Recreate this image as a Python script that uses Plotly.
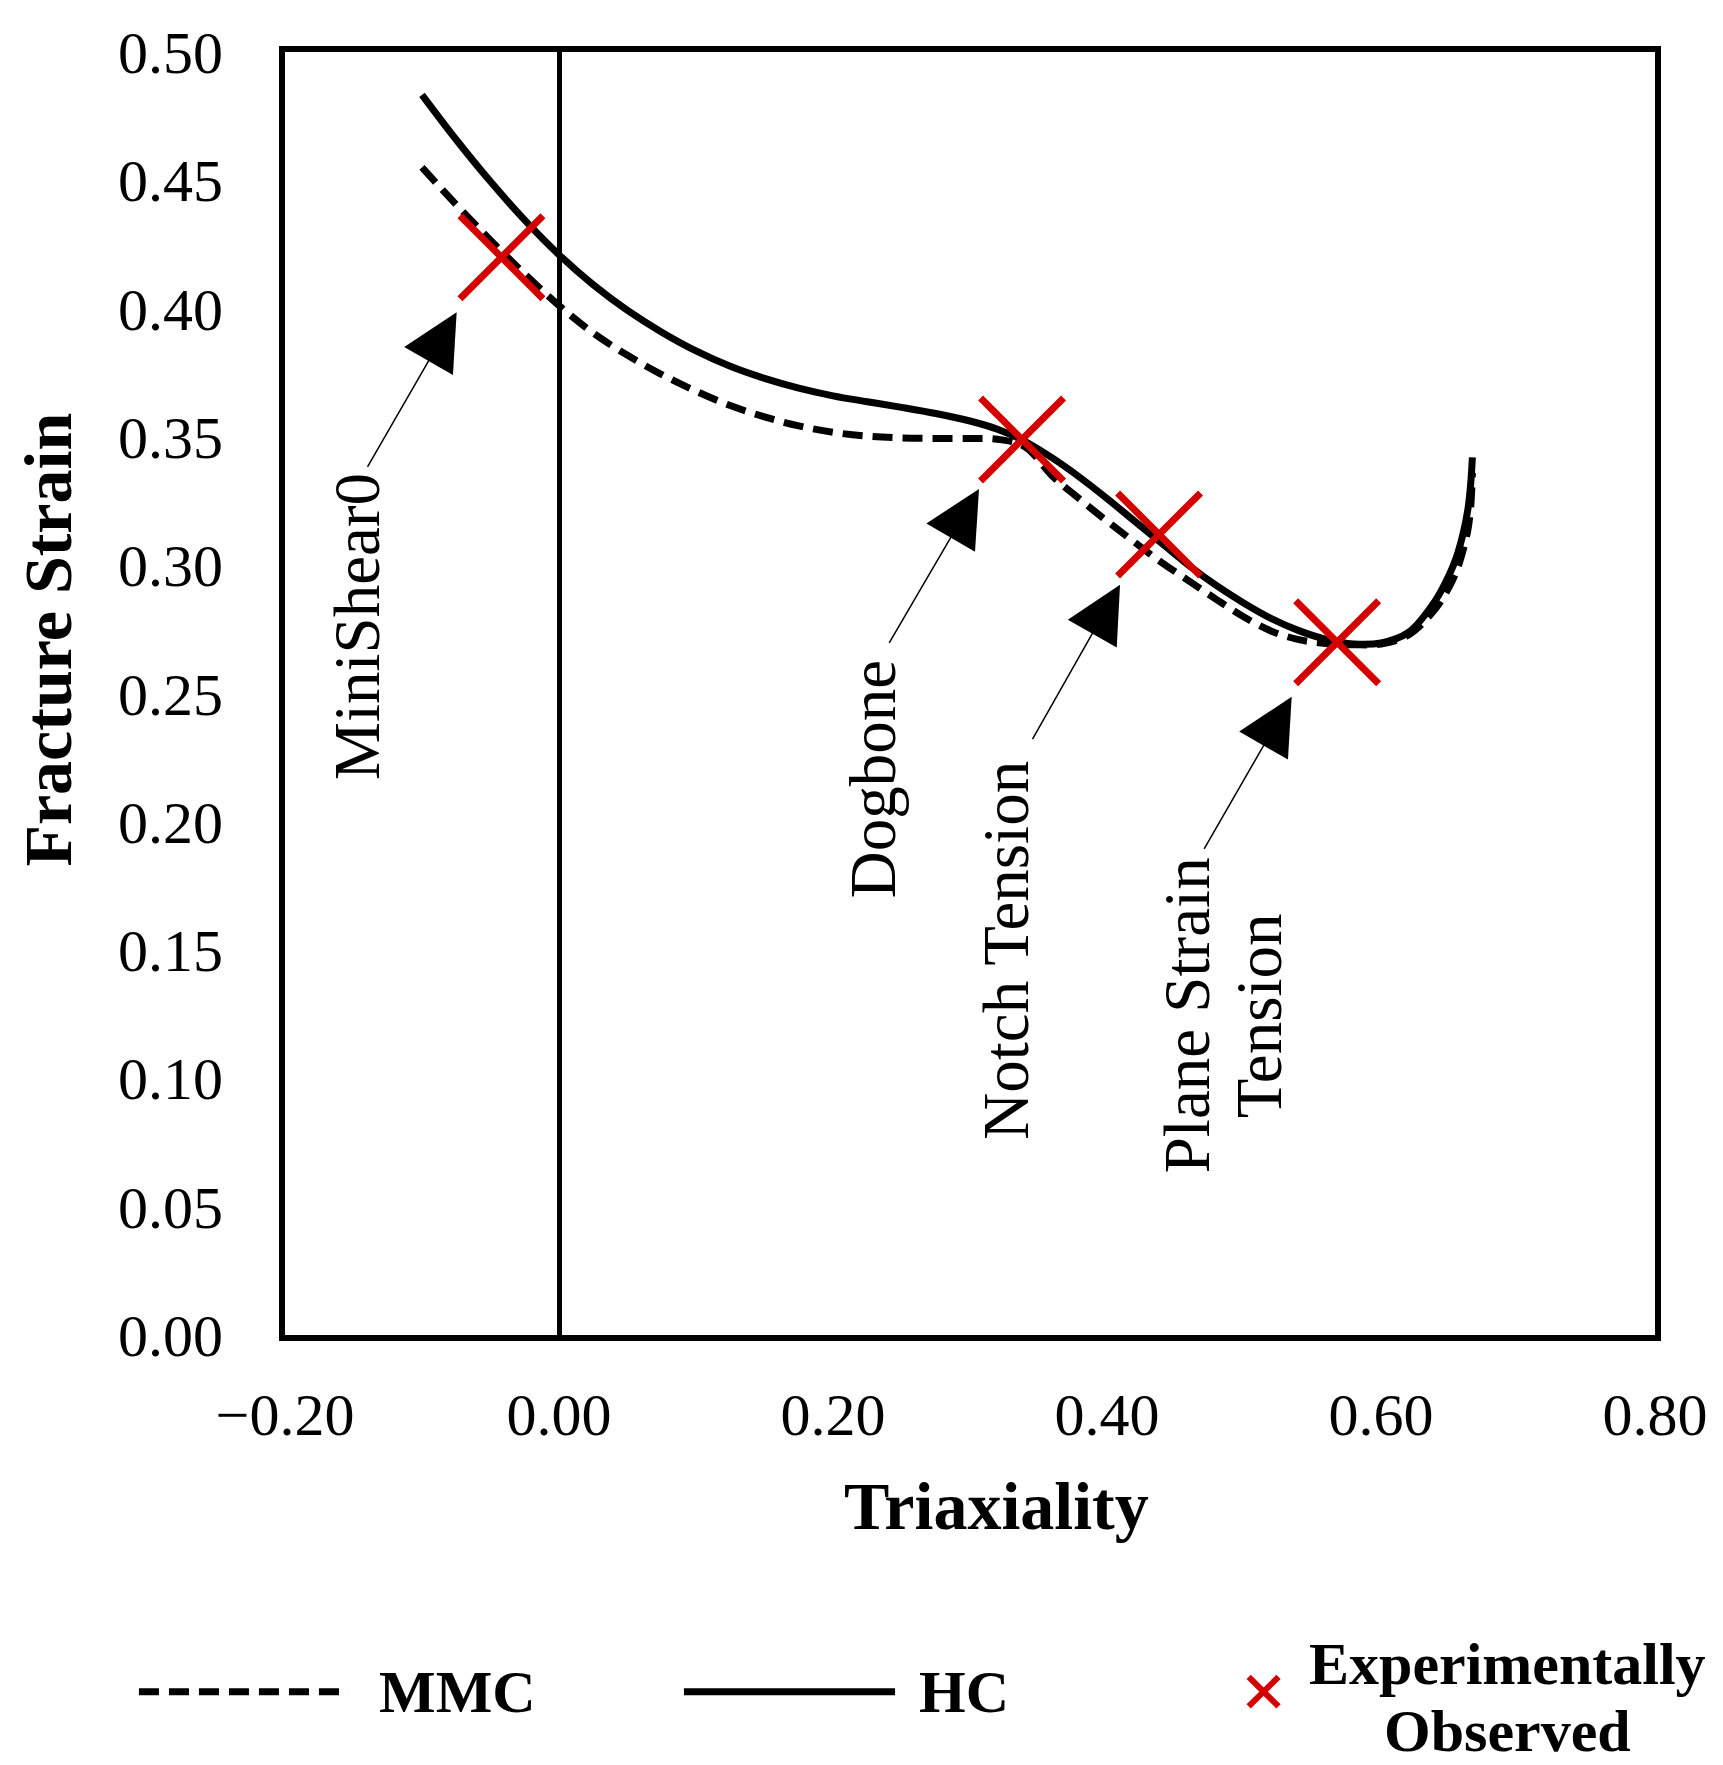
import plotly.graph_objects as go

# Curves
triax = [-0.10, -0.075, -0.05, -0.025, 0.0, 0.025, 0.05, 0.075, 0.10, 0.125,
         0.15, 0.175, 0.20, 0.225, 0.25, 0.275, 0.30, 0.32, 0.34, 0.36,
         0.38, 0.40, 0.42, 0.44, 0.46, 0.48, 0.50, 0.52, 0.54, 0.56,
         0.58, 0.60, 0.62, 0.64, 0.65, 0.655, 0.66, 0.6635, 0.6655, 0.6667]

hc_strain = [0.4833, 0.4658, 0.4495, 0.4345, 0.421, 0.4093, 0.3993, 0.3908, 0.3835, 0.3775,
             0.3728, 0.369, 0.366, 0.3637, 0.3615, 0.3591, 0.3562, 0.353, 0.3483, 0.3418,
             0.3343, 0.326, 0.3172, 0.3085, 0.2998, 0.292, 0.2852, 0.2792, 0.2745, 0.2711,
             0.2693, 0.2697, 0.2738, 0.2865, 0.2965, 0.303, 0.3125, 0.322, 0.332, 0.342]

mmc_strain = [0.455, 0.4405, 0.4267, 0.4135, 0.4012, 0.3905, 0.3818, 0.3743, 0.3678, 0.3622,
              0.3578, 0.3543, 0.3518, 0.3503, 0.3496, 0.3494, 0.3494, 0.3491, 0.3462, 0.3348,
              0.3258, 0.3172, 0.309, 0.301, 0.2938, 0.2866, 0.2798, 0.2743, 0.271, 0.2695,
              0.269, 0.2693, 0.2728, 0.2832, 0.2918, 0.2975, 0.306, 0.314, 0.323, 0.336]

# Experimentally observed points
exp_triax = [-0.042, 0.338, 0.438, 0.568]
exp_strain = [0.420, 0.349, 0.312, 0.270]

# Specimen labels: text position, arrow tail, arrow tip
spec_labels = ["MiniShear0", "Dogbone", "Notch Tension", "Plane Strain"]
label_x = [-0.147, 0.2292, 0.3263, 0.4584]
label_y = [0.2762, 0.2166, 0.1498, 0.1246]
tail_x = [-0.1404, 0.2404, 0.345, 0.4703]
tail_y = [0.3377, 0.2691, 0.2316, 0.1889]
tip_x = [-0.0747, 0.3066, 0.4095, 0.5348]
tip_y = [0.3986, 0.3297, 0.2924, 0.2487]

FONT = "Liberation Serif"
RED = "#d40000"

fig = go.Figure()

fig.add_trace(go.Scatter(
    x=triax, y=mmc_strain, mode="lines", name="MMC",
    line=dict(color="black", width=7, dash="20px,10px", shape="spline", smoothing=1.0),
))
fig.add_trace(go.Scatter(
    x=triax, y=hc_strain, mode="lines", name="HC",
    line=dict(color="black", width=7, shape="spline", smoothing=1.0),
))
fig.add_trace(go.Scatter(
    x=exp_triax, y=exp_strain, mode="markers", name="Experimentally Observed",
    marker=dict(symbol="x-thin", size=83, color=RED, line=dict(width=7, color=RED)),
))

label_font = dict(family=FONT, size=65, color="black")
annotations = []
for name, lx, ly in zip(spec_labels, label_x, label_y):
    annotations.append(dict(
        x=lx, y=ly, xref="x", yref="y", text=name, showarrow=False,
        textangle=-90, xanchor="center", yanchor="middle", font=label_font,
    ))
# second line of "Plane Strain Tension"
annotations.append(dict(
    x=0.511, y=0.1242, xref="x", yref="y", text="Tension", showarrow=False,
    textangle=-90, xanchor="center", yanchor="middle", font=label_font,
))
for tx, ty, hx, hy in zip(tail_x, tail_y, tip_x, tip_y):
    annotations.append(dict(
        x=hx, y=hy, ax=tx, ay=ty, xref="x", yref="y", axref="x", ayref="y",
        text="", showarrow=True, arrowhead=2, arrowsize=7.5, arrowwidth=1.5,
        arrowcolor="black", standoff=0, startstandoff=0,
    ))

# axis titles
title_font = dict(family=FONT, size=68, color="black")
annotations.append(dict(
    x=0.5197, y=-0.1335, xref="paper", yref="paper", text="<b>Triaxiality</b>",
    showarrow=False, xanchor="center", yanchor="middle", font=title_font,
))
annotations.append(dict(
    x=-0.173, y=0.542, xref="paper", yref="paper", text="<b>Fracture Strain</b>",
    showarrow=False, textangle=-90, xanchor="center", yanchor="middle", font=title_font,
))

# legend drawn below the plot
leg_font = dict(family=FONT, size=60, color="black")
leg_y = -0.278
annotations += [
    dict(x=0.0672, y=leg_y, xref="paper", yref="paper", text="<b>MMC</b>",
         showarrow=False, xanchor="left", yanchor="middle", font=leg_font),
    dict(x=0.4613, y=leg_y, xref="paper", yref="paper", text="<b>HC</b>",
         showarrow=False, xanchor="left", yanchor="middle", font=leg_font),
    dict(x=0.892, y=-0.2562, xref="paper", yref="paper", text="<b>Experimentally</b>",
         showarrow=False, xanchor="center", yanchor="middle", font=leg_font),
    dict(x=0.892, y=-0.309, xref="paper", yref="paper", text="<b>Observed</b>",
         showarrow=False, xanchor="center", yanchor="middle", font=leg_font),
]

shapes = [
    dict(type="line", xref="paper", yref="paper", x0=-0.1066, x1=0.0467, y0=leg_y, y1=leg_y,
         line=dict(color="black", width=7, dash="20px,10px")),
    dict(type="line", xref="paper", yref="paper", x0=0.2912, x1=0.4453, y0=leg_y, y1=leg_y,
         line=dict(color="black", width=7)),
    dict(type="line", xref="paper", yref="paper", x0=0.7034, x1=0.7252, y0=leg_y - 0.0115, y1=leg_y + 0.0115,
         line=dict(color=RED, width=6)),
    dict(type="line", xref="paper", yref="paper", x0=0.7034, x1=0.7252, y0=leg_y + 0.0115, y1=leg_y - 0.0115,
         line=dict(color=RED, width=6)),
]

fig.update_layout(
    width=1723, height=1765,
    margin=dict(l=277, r=76, t=39, b=438),
    paper_bgcolor="white", plot_bgcolor="white",
    showlegend=False,
    font=dict(family=FONT, size=60, color="black"),
    annotations=annotations,
    shapes=shapes,
)
fig.update_xaxes(
    range=[-0.2, 0.8], dtick=0.2, tick0=-0.2, tickformat=".2f",
    showgrid=False, showline=True, linecolor="black", linewidth=6, mirror=True,
    zeroline=True, zerolinecolor="black", zerolinewidth=5,
    ticks="", ticklabelstandoff=22, tickfont=dict(family=FONT, size=60),
)
fig.update_yaxes(
    range=[0, 0.5], dtick=0.05, tickformat=".2f",
    showgrid=False, showline=True, linecolor="black", linewidth=6, mirror=True,
    zeroline=False,
    ticks="", ticklabelstandoff=44, tickfont=dict(family=FONT, size=60),
)

fig.write_html("out.html")
